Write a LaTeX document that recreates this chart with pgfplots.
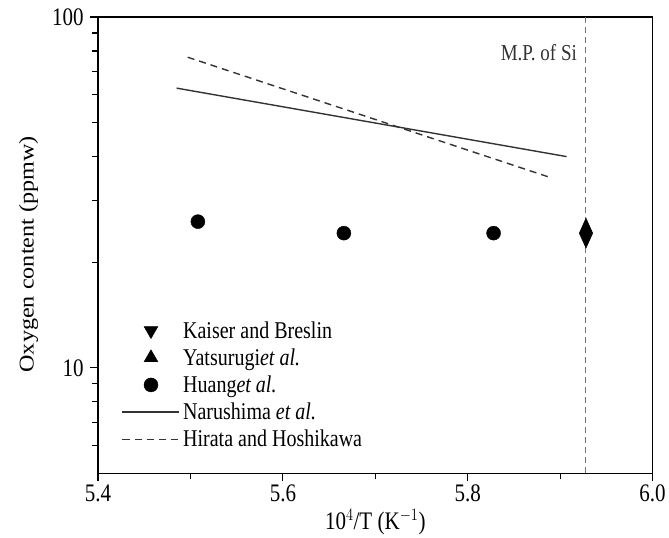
\documentclass[border=0pt]{standalone}
\usepackage{pgfplots}
\pgfplotsset{compat=1.18}
\usepackage{graphicx}
\usepackage{fontspec}
\setmainfont{Liberation Serif}
% the reference's lettering is a little taller than it is wide
\newcommand{\st}[1]{\scalebox{1}[1.2]{#1}}

\begin{document}
\begin{tikzpicture}
\begin{axis}[
    scale only axis,
    width=554pt, height=456pt,
    ymode=log,
    xmin=5.4, xmax=6.0,
    ymin=5, ymax=100,
    xtick={5.4,5.6,5.8,6.0},
    xticklabels={\st{5.4},\st{5.6},\st{5.8},\st{6.0}},
    minor xtick={5.5,5.7,5.9},
    ytick={10,100},
    yticklabels={\st{10},\st{100}},
    minor ytick={6,7,8,9,20,30,40,50,60,70,80,90},
    tick align=outside,
    xtick pos=left, ytick pos=left,
    major tick length=8pt, minor tick length=6pt,
    every tick/.style={black, line width=1.2pt},
    axis line style={line width=1.3pt},
    tick label style={font=\fontsize{21}{25}\selectfont},
    yticklabel style={xshift=-3pt},
    label style={font=\fontsize{21}{25}\selectfont},
    xlabel={\st{10$^{4}$/T (K$^{-1}$)}},
    ylabel={\scalebox{1.15}[1]{Oxygen content (ppmw)}},
    ylabel style={at={(ticklabel cs:0.48)}},
    ylabel shift=7pt,
    legend cell align=left,
    legend style={draw=none, fill=none, at={(0.037,0.342)}, anchor=north west,
        font=\fontsize{20}{23}\selectfont, row sep=5pt,
        /tikz/every odd column/.append style={column sep=1pt}},
    legend image code/.code={
        \draw[mark repeat=2,mark phase=2] plot coordinates {(0cm,0cm) (1cm,0cm) (2cm,0cm)};},
]
\addlegendimage{only marks, mark=triangle*, mark size=8pt, mark options={rotate=180, fill=black}}
\addlegendentry{\st{Kaiser and Breslin}}
\addlegendimage{only marks, mark=triangle*, mark size=8pt, mark options={fill=black}}
\addlegendentry{\st{Yatsurugi\textit{et al.}}}

\addplot[only marks, mark=*, mark size=7pt, black] coordinates {
    (5.508,26.1) (5.666,24.2) (5.828,24.2)};
\addlegendentry{\st{Huang\textit{et al.}}}

\addplot[black!80, line width=1.4pt] coordinates {
    (5.485,62.7) (5.907,40.0)};
\addlegendentry{\st{Narushima \textit{et al.}}}

\addplot[black!80, line width=1.4pt, dash pattern=on 7pt off 5pt] coordinates {
    (5.497,76.8) (5.889,34.9)};
\addlegendentry{\st{Hirata and Hoshikawa}}

\addplot[forget plot, black!55, line width=1pt, dash pattern=on 6pt off 4pt] coordinates {
    (5.928,5) (5.928,100)};
\addplot[forget plot, only marks, mark=diamond*, mark size=15pt, mark options={xscale=0.6}, black] coordinates {
    (5.928,24.2)};

\node[anchor=east, font=\fontsize{19}{22}\selectfont, text=black!80] at (axis cs:5.922,79) {\st{M.P. of Si}};
\end{axis}
% white margin left of the y label and above the frame, as in the reference
\path ([xshift=-98pt]current axis.south west);
\path ([yshift=17pt]current axis.north west);
\end{tikzpicture}
\end{document}
